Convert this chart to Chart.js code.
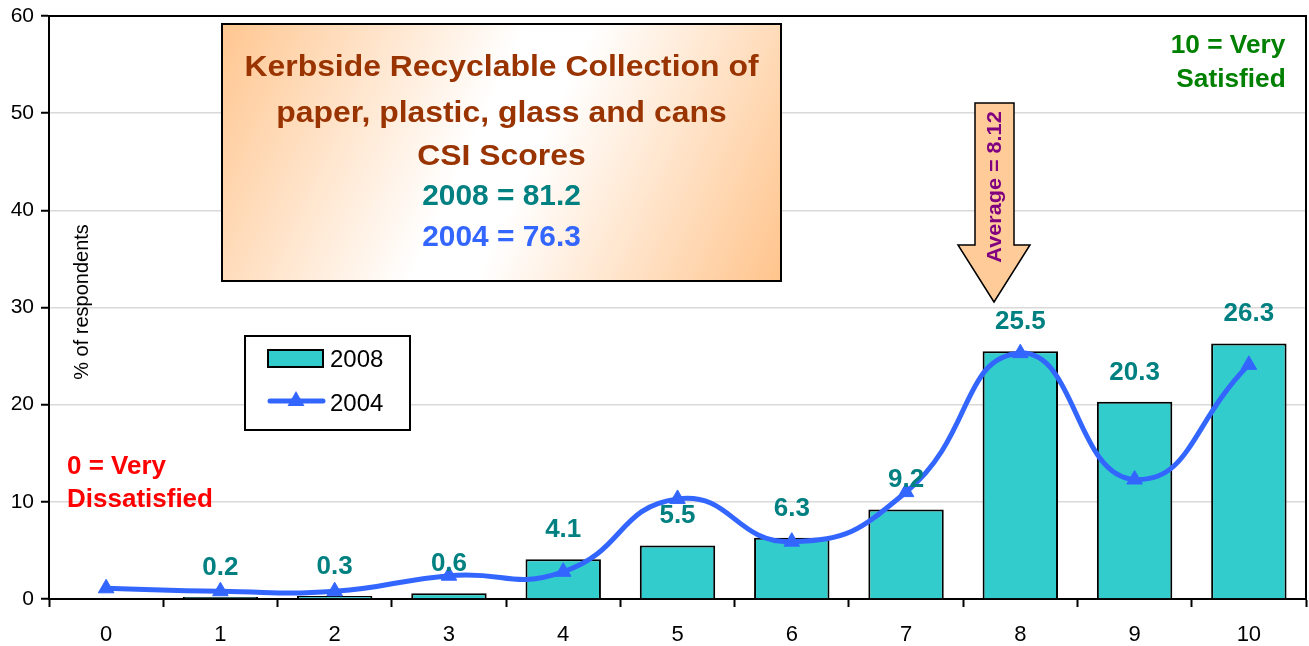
<!DOCTYPE html>
<html>
<head>
<meta charset="utf-8">
<script src="https://cdn.jsdelivr.net/npm/chart.js@4/dist/chart.umd.min.js"></script>
<style>
html,body{margin:0;padding:0;background:#fff;}
#wrap{width:1309px;height:646px;position:relative;}
</style>
</head>
<body>
<div id="wrap"><canvas id="c" width="1309" height="646"></canvas></div>
<script>
const categories = ['0','1','2','3','4','5','6','7','8','9','10'];
const values2008 = [null, 0.2, 0.3, 0.6, 4.1, 5.5, 6.3, 9.2, 25.5, 20.3, 26.3];
const values2004 = [1.1, 0.8, 0.8, 2.4, 2.8, 10.3, 5.9, 11.0, 25.3, 12.3, 24.1];
const yTicks = [0, 10, 20, 30, 40, 50, 60];
const seriesNames = ['2008', '2004'];
const titleLines = ['Kerbside Recyclable Collection of', 'paper, plastic, glass and cans', 'CSI Scores'];
const scoreLines = ['2008 = 81.2', '2004 = 76.3'];
const averageLabel = 'Average = 8.12';

const FONT = '"Liberation Sans", Arial, sans-serif';
const TEAL = '#33CCCC';
const BLUE = '#3366FF';

function stretchedText(ctx, text, x, y, sx) {
  ctx.save();
  ctx.translate(x, y);
  ctx.scale(sx, 1);
  ctx.fillText(text, 0, 0);
  ctx.restore();
}

const annotations = {
  id: 'annotations',
  afterDraw(chart) {
    const ctx = chart.ctx;
    const a = chart.chartArea;
    ctx.save();
    // top & right frame
    ctx.strokeStyle = '#000'; ctx.lineWidth = 2;
    ctx.beginPath();
    ctx.moveTo(a.left, a.top); ctx.lineTo(a.right, a.top); ctx.lineTo(a.right, a.bottom);
    ctx.stroke();

    // data labels for 2008
    const meta = chart.getDatasetMeta(0);
    ctx.fillStyle = '#008080';
    ctx.font = 'bold 25px ' + FONT;
    ctx.textAlign = 'center'; ctx.textBaseline = 'middle';
    meta.data.forEach((bar, i) => {
      const v = values2008[i];
      if (v === null || v === undefined) return;
      stretchedText(ctx, v.toFixed(1), bar.x, bar.y - 29, 1.04);
    });

    // y axis title
    ctx.save();
    ctx.translate(82, 302);
    ctx.rotate(-Math.PI / 2);
    ctx.fillStyle = '#000';
    ctx.font = '20px ' + FONT;
    ctx.fillText('% of respondents', 0, 0);
    ctx.restore();

    // title box
    const bx = 222, by = 24, bw = 559, bh = 257;
    const g = ctx.createLinearGradient(bx, by, bx + bw, by + bh);
    g.addColorStop(0, '#FFC690');
    g.addColorStop(0.45, '#FFFFFF');
    g.addColorStop(0.55, '#FFFFFF');
    g.addColorStop(1, '#FFC48C');
    ctx.fillStyle = g;
    ctx.fillRect(bx, by, bw, bh);
    ctx.strokeStyle = '#000'; ctx.lineWidth = 2;
    ctx.strokeRect(bx, by, bw, bh);
    ctx.font = 'bold 29px ' + FONT;
    ctx.fillStyle = '#993300';
    const cx = bx + bw / 2;
    [68, 114, 157].forEach((y, i) => stretchedText(ctx, titleLines[i], cx, y, 1.1));
    ctx.fillStyle = '#008080';
    stretchedText(ctx, scoreLines[0], cx, 197, 1.03);
    ctx.fillStyle = BLUE;
    stretchedText(ctx, scoreLines[1], cx, 238, 1.03);

    // arrow
    ctx.beginPath();
    ctx.moveTo(975, 103); ctx.lineTo(1014, 103); ctx.lineTo(1014, 245);
    ctx.lineTo(1030, 245); ctx.lineTo(994, 302); ctx.lineTo(958, 245);
    ctx.lineTo(975, 245); ctx.closePath();
    ctx.fillStyle = '#FFCC99'; ctx.fill();
    ctx.strokeStyle = '#000'; ctx.lineWidth = 1.5; ctx.stroke();
    ctx.save();
    ctx.translate(995, 187);
    ctx.rotate(-Math.PI / 2);
    ctx.fillStyle = '#800080';
    ctx.font = 'bold 21px ' + FONT;
    ctx.scale(1.03, 1);
    ctx.fillText(averageLabel, 0, 0);
    ctx.restore();

    // side labels
    ctx.font = 'bold 25px ' + FONT;
    ctx.fillStyle = '#008000';
    stretchedText(ctx, '10 = Very', 1228, 46, 1.05);
    stretchedText(ctx, 'Satisfied', 1231, 80, 1.05);
    ctx.fillStyle = '#FF0000';
    ctx.textAlign = 'left';
    ctx.font = 'bold 26px ' + FONT;
    ctx.fillText('0 = Very', 67, 467);
    ctx.fillText('Dissatisfied', 67, 500);

    // legend
    const lx = 245, ly = 336, lw = 165, lh = 94;
    ctx.fillStyle = '#fff'; ctx.fillRect(lx, ly, lw, lh);
    ctx.strokeStyle = '#000'; ctx.lineWidth = 2; ctx.strokeRect(lx, ly, lw, lh);
    ctx.fillStyle = TEAL; ctx.fillRect(268, 350, 55, 17);
    ctx.strokeRect(268, 350, 55, 17);
    ctx.strokeStyle = BLUE; ctx.lineWidth = 5; ctx.lineCap = 'round';
    ctx.beginPath(); ctx.moveTo(270, 401); ctx.lineTo(323, 401); ctx.stroke();
    ctx.fillStyle = BLUE;
    ctx.beginPath(); ctx.moveTo(296, 391); ctx.lineTo(304.5, 406); ctx.lineTo(287.5, 406); ctx.closePath(); ctx.fill();
    ctx.fillStyle = '#000'; ctx.font = '24px ' + FONT;
    ctx.textAlign = 'left';
    ctx.fillText(seriesNames[0], 330, 360);
    ctx.fillText(seriesNames[1], 330, 404);
    ctx.restore();
  }
};

new Chart(document.getElementById('c'), {
  type: 'bar',
  data: {
    labels: categories,
    datasets: [
      {
        type: 'bar', label: seriesNames[0], data: values2008,
        backgroundColor: TEAL, borderColor: '#000', borderWidth: 2,
        categoryPercentage: 1.0, barPercentage: 0.66, order: 2
      },
      {
        type: 'line', label: seriesNames[1], data: values2004,
        borderColor: BLUE, backgroundColor: BLUE, borderWidth: 5,
        tension: 0.5, pointStyle: 'triangle', pointRadius: 9,
        pointBackgroundColor: BLUE, pointBorderColor: BLUE, pointBorderWidth: 1,
        order: 1
      }
    ]
  },
  options: {
    responsive: false,
    animation: false,
    layout: { autoPadding: false, padding: { top: 16, right: 3, left: 0, bottom: 0 } },
    plugins: { legend: { display: false }, tooltip: { enabled: false } },
    scales: {
      x: {
        offset: true,
        grid: { offset: true, drawOnChartArea: false, drawTicks: true, tickLength: 8, tickColor: '#000', tickWidth: 2 },
        border: { color: '#000', width: 2 },
        ticks: { color: '#000', font: { size: 22, family: FONT }, padding: 15 },
        afterFit: s => { s.height = 47; s.paddingLeft = 0; s.paddingRight = 0; }
      },
      y: {
        min: 0, max: 60,
        afterBuildTicks: s => { s.ticks = yTicks.map(v => ({ value: v })); },
        grid: { color: '#D9D9D9', lineWidth: 1.5, tickColor: '#000', tickLength: 8, tickWidth: 2 },
        border: { color: '#000', width: 2 },
        ticks: { color: '#000', font: { size: 21, family: FONT }, padding: 7 },
        afterFit: s => { s.width = 49; s.paddingTop = 0; s.paddingBottom = 0; }
      }
    }
  },
  plugins: [annotations]
});
</script>
</body>
</html>
